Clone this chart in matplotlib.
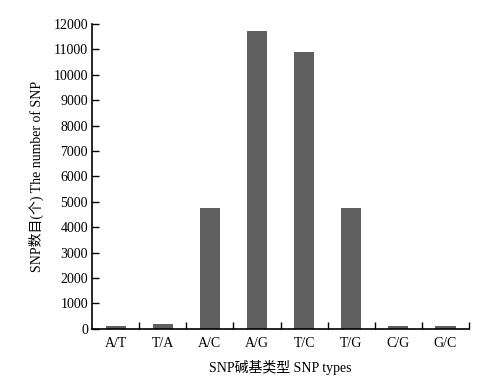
import matplotlib.pyplot as plt

plt.rcParams['font.family'] = ['Liberation Serif', 'Noto Sans CJK SC']

snp_types = ['A/T', 'T/A', 'A/C', 'A/G', 'T/C', 'T/G', 'C/G', 'G/C']
snp_counts = [120, 200, 4760, 11720, 10900, 4760, 120, 120]
y_ticks = list(range(0, 12001, 1000))

fig = plt.figure(figsize=(4.85, 3.92), dpi=100)
ax = fig.add_axes([0.19, 0.161, 0.777, 0.778])

pos = list(range(len(snp_types)))
ax.bar(pos, snp_counts, width=0.43, color='#606060')

ax.set_xlim(-0.5, len(snp_types) - 0.5)
ax.set_ylim(0, 12000)
ax.set_yticks(y_ticks)
ax.set_xticks(pos)
ax.set_xticklabels(snp_types)
# ticks on category boundaries
ax.set_xticks([p + 0.5 for p in pos], minor=True)
ax.tick_params(axis='x', which='major', length=0, pad=6, labelsize=10)
ax.tick_params(axis='x', which='minor', direction='in', length=5, width=1)
ax.tick_params(axis='y', direction='in', length=5, width=1, pad=3, labelsize=10)

for s in ['top', 'right']:
    ax.spines[s].set_visible(False)
for s in ['left', 'bottom']:
    ax.spines[s].set_linewidth(1.2)

ax.set_xlabel('SNP碱基类型 SNP types', fontsize=10, labelpad=7)
ax.set_ylabel('SNP数目(个) The number of SNP', fontsize=10, labelpad=7)

fig.savefig('out.png', dpi=100)
